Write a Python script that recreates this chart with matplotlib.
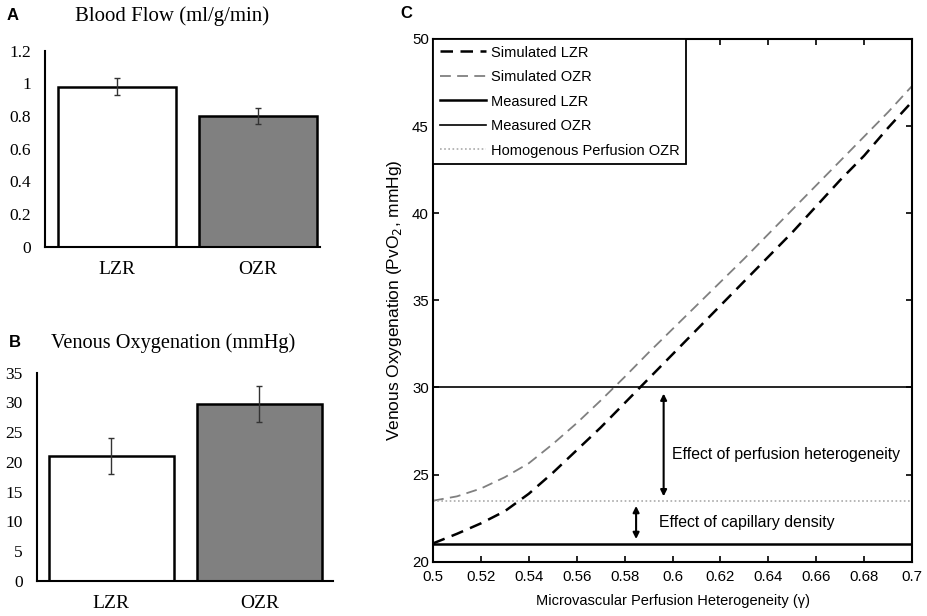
import matplotlib
matplotlib.use("Agg")
import matplotlib.pyplot as plt
import numpy as np

# ---------------- data ----------------
groups = ["LZR", "OZR"]
blood_flow = [0.98, 0.80]
blood_flow_err = [0.05, 0.05]
venous_oxy = [21.0, 29.8]
venous_oxy_err = [3.1, 3.0]

gamma = [0.50, 0.51, 0.52, 0.53, 0.54, 0.55, 0.56, 0.57, 0.58, 0.59, 0.60,
         0.61, 0.62, 0.63, 0.64, 0.65, 0.66, 0.67, 0.68, 0.69, 0.70]
sim_lzr = [21.05, 21.6, 22.2, 22.9, 23.9, 25.1, 26.4, 27.7, 29.1, 30.5, 31.9,
           33.3, 34.7, 36.1, 37.5, 38.9, 40.4, 41.9, 43.3, 44.9, 46.4]
sim_ozr = [23.5, 23.75, 24.2, 24.85, 25.65, 26.75, 27.95, 29.25, 30.6, 32.0, 33.35,
           34.7, 36.05, 37.4, 38.8, 40.2, 41.6, 43.0, 44.4, 45.8, 47.3]
measured_lzr = 21.0
measured_ozr = 30.0
homog_ozr = 23.5

a_ticks = [0, 0.2, 0.4, 0.6, 0.8, 1, 1.2]
a_ticklabels = ["0", "0.2", "0.4", "0.6", "0.8", "1", "1.2"]
b_ticks = [0, 5, 10, 15, 20, 25, 30, 35]
c_xticks = [0.5, 0.52, 0.54, 0.56, 0.58, 0.6, 0.62, 0.64, 0.66, 0.68, 0.7]
c_xticklabels = ["0.5", "0.52", "0.54", "0.56", "0.58", "0.6", "0.62", "0.64", "0.66", "0.68", "0.7"]
c_yticks = [20, 25, 30, 35, 40, 45, 50]

serif = ["Liberation Serif", "DejaVu Serif"]
sans = ["Liberation Sans", "DejaVu Sans"]

fig = plt.figure(figsize=(9.27, 6.16), dpi=100)

def bar_panel(ax, vals, errs, ticks, ticklabels, ylim, xlim):
    x = np.arange(len(groups))
    ax.bar(x, vals, width=0.84, color=["white", "#808080"], edgecolor="black",
           linewidth=1.8, zorder=2)
    ax.errorbar(x, vals, yerr=errs, fmt="none", ecolor="#333333", elinewidth=1.0,
                capsize=2, capthick=1.0, zorder=3)
    ax.set_xlim(*xlim)
    ax.set_ylim(*ylim)
    ax.set_yticks(ticks)
    ax.set_yticklabels(ticklabels, fontfamily=serif, fontsize=12.5)
    ax.set_xticks(x)
    ax.set_xticklabels(groups, fontfamily=serif, fontsize=14)
    ax.tick_params(axis="y", length=0, pad=10)
    ax.tick_params(axis="x", length=0, pad=10)
    for s in ["top", "right"]:
        ax.spines[s].set_visible(False)
    ax.spines["left"].set_linewidth(1.5)
    ax.spines["bottom"].set_linewidth(1.5)

# Panel A
axA = fig.add_axes([45/927, 1-246.7/616, (320-45)/927, (246.7-50.7)/616])
bar_panel(axA, blood_flow, blood_flow_err, a_ticks, a_ticklabels, (0, 1.2), (-0.513, 1.44))
fig.text(172/927, 1-16/616, "Blood Flow (ml/g/min)", fontfamily=serif, fontsize=15,
         ha="center", va="center")
fig.text(7/927, 1-16/616, "A", fontfamily=sans, fontweight="bold", fontsize=12,
         ha="left", va="center")

# Panel B
axB = fig.add_axes([36.7/927, 1-581/616, (333-36.7)/927, (581-372.7)/616])
bar_panel(axB, venous_oxy, venous_oxy_err, b_ticks, [str(t) for t in b_ticks], (0, 35), (-0.503, 1.496))
fig.text(173/927, 1-343/616, "Venous Oxygenation (mmHg)", fontfamily=serif, fontsize=14.6,
         ha="center", va="center")
fig.text(9/927, 1-343/616, "B", fontfamily=sans, fontweight="bold", fontsize=12,
         ha="left", va="center")

# Panel C
axC = fig.add_axes([433/927, 1-561.7/616, (912-433)/927, (561.7-39)/616])
axC.plot(gamma, sim_lzr, color="black", lw=1.8, dashes=(5, 3), label="Simulated LZR")
axC.plot(gamma, sim_ozr, color="#808080", lw=1.3, dashes=(6, 3.5), label="Simulated OZR")
axC.axhline(measured_lzr, color="black", lw=1.8, label="Measured LZR")
axC.axhline(measured_ozr, color="black", lw=1.2, label="Measured OZR")
axC.axhline(homog_ozr, color="#aaaaaa", lw=1.2, ls=(0, (1, 1.5)), label="Homogenous Perfusion OZR")
axC.set_xlim(0.5, 0.7)
axC.set_ylim(20, 50)
axC.set_xticks(c_xticks)
axC.set_xticklabels(c_xticklabels, fontfamily=sans, fontsize=10.8)
axC.set_yticks(c_yticks)
axC.set_yticklabels([str(t) for t in c_yticks], fontfamily=sans, fontsize=10.8)
axC.tick_params(direction="in", top=True, right=True, length=4, width=1.2, pad=3)
axC.tick_params(axis="x", pad=6)
for s in axC.spines.values():
    s.set_linewidth(1.5)
axC.set_xlabel("Microvascular Perfusion Heterogeneity (\u03b3)", fontfamily=sans, fontsize=10.5, labelpad=7)
axC.set_ylabel("Venous Oxygenation (PvO$_2$, mmHg)", fontfamily=sans, fontsize=12.5, labelpad=6)

leg = axC.legend(loc="upper left", borderaxespad=0, prop={"family": sans, "size": 10.5},
                 handlelength=3.2, handletextpad=0.3, labelspacing=0.72,
                 fancybox=False, framealpha=1, edgecolor="black", borderpad=0.45)
leg.get_frame().set_linewidth(1.3)

axC.annotate("", xy=(0.5963, 29.65), xytext=(0.5963, 23.75),
             arrowprops=dict(arrowstyle="<|-|>", color="black", lw=1.5,
                             mutation_scale=9, shrinkA=0, shrinkB=0))
axC.annotate("", xy=(0.5848, 23.2), xytext=(0.5848, 21.3),
             arrowprops=dict(arrowstyle="<|-|>", color="black", lw=1.5,
                             mutation_scale=9, shrinkA=0, shrinkB=0))
axC.text(0.5998, 26.13, "Effect of perfusion heterogeneity", fontfamily=sans, fontsize=11.4,
         ha="left", va="center")
axC.text(0.5945, 22.24, "Effect of capillary density", fontfamily=sans, fontsize=11.4,
         ha="left", va="center")

fig.text(400/927, 1-13/616, "C", fontfamily=sans, fontweight="bold", fontsize=12,
         ha="left", va="center")

fig.savefig("out.png", dpi=100)
